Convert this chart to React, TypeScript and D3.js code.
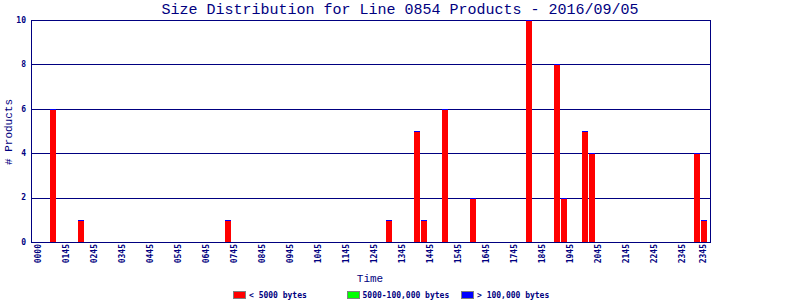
import React from "react";
import * as d3 from "d3";

// ---- Data ----
const title = "Size Distribution for Line 0854 Products - 2016/09/05";
const barTimes = ["0030", "0130", "0645", "1230", "1330", "1345", "1430", "1530", "1730", "1830", "1845", "1930", "1945", "2330", "2345"];
const smallValues = [6, 1, 1, 1, 5, 1, 6, 2, 10, 8, 2, 5, 4, 4, 1];
const mediumValues = [0, 0, 0, 0, 0, 0, 0, 0, 0, 0, 0, 0, 0, 0, 0];
const largeValues = [0, 0, 0, 0, 0, 0, 0, 0, 0, 0, 0, 0, 0, 0, 0];
const seriesNames = ["< 5000 bytes", "5000-100,000 bytes", "> 100,000 bytes"];
const seriesColors = ["#ff0000", "#00ff00", "#0000ff"];
const yTicks = [0, 2, 4, 6, 8, 10];
const tickSlots = ["0000", "0100", "0200", "0300", "0400", "0500", "0600", "0700", "0800", "0900", "1000", "1100", "1200", "1300", "1400", "1500", "1600", "1700", "1800", "1900", "2000", "2100", "2200", "2300", "2345"];
const tickLabels = ["0000", "0145", "0245", "0345", "0445", "0545", "0645", "0745", "0845", "0945", "1045", "1145", "1245", "1345", "1445", "1545", "1645", "1745", "1845", "1945", "2045", "2145", "2245", "2345", "2345"];

// 15-minute time slots of the day (categorical domain)
const slots: string[] = [];
for (let h = 0; h < 24; h++) {
  for (let m = 0; m < 60; m += 15) {
    slots.push(String(h).padStart(2, "0") + String(m).padStart(2, "0"));
  }
}

const NAVY = "#000080";
const MONO = "'DejaVu Sans Mono', 'Liberation Mono', monospace";
const MONO_LIGHT = "'Liberation Mono', 'DejaVu Sans Mono', monospace";

export default function App() {
  const W = 800, H = 300;
  const left = 31, right = 710, top = 20, bottom = 242;

  const x = d3.scaleBand<string>().domain(slots).range([35.5, 707.5]).paddingInner(1 / 7).paddingOuter(1 / 14);
  const y = d3.scaleLinear().domain([0, 10]).range([bottom, top]);
  const bw = x.bandwidth();

  const series = [smallValues, mediumValues, largeValues];
  const rows = barTimes.map((t, i) => {
    const obj: any = { time: t };
    series.forEach((s, j) => (obj["s" + j] = s[i]));
    return obj;
  });
  const stack = d3.stack<any>().keys(["s0", "s1", "s2"])(rows);

  const legendX = [233, 346.5, 461];

  return (
    <svg width={W} height={H} style={{ position: "absolute", left: 0, top: 0, background: "#fff" }} shapeRendering="crispEdges">
      <rect x={0} y={0} width={W} height={H} fill="#fff" />
      <text x={400} y={14} textAnchor="middle" fontFamily={MONO_LIGHT} fontSize={15} fill={NAVY}>{title}</text>

      {/* gridlines */}
      {yTicks.map((v) => (
        <line key={"g" + v} x1={left} x2={right + 1} y1={Math.round(y(v)) + 0.5} y2={Math.round(y(v)) + 0.5} stroke={NAVY} strokeWidth={1} />
      ))}
      {/* axes / frame */}
      <line x1={left + 0.5} x2={left + 0.5} y1={top} y2={bottom + 1} stroke={NAVY} />
      <line x1={right + 0.5} x2={right + 0.5} y1={top} y2={bottom + 1} stroke={NAVY} />

      {/* bars (stacked; empty segments drawn as 1px line at the top) */}
      {stack.map((layer, j) =>
        layer.map((d, i) => {
          const y0 = Math.round(y(d[0]));
          const y1 = Math.round(y(d[1]));
          const h = Math.max(1, y0 - y1);
          return <rect key={j + "-" + i} x={x(rows[i].time)} y={y1} width={bw} height={h} fill={seriesColors[j]} />;
        })
      )}

      {/* y tick labels */}
      {yTicks.map((v) => (
        <text key={"yt" + v} x={26} y={y(v)} dy="0.35em" textAnchor="end" fontFamily={MONO} fontSize={8} fontWeight="bold" fill={NAVY}>{v}</text>
      ))}

      {/* x tick labels */}
      {tickSlots.map((s, i) => {
        const cx = (x(s) as number) + bw / 2 - 0.5;
        return (
          <text key={"xt" + i} transform={`translate(${cx},244) rotate(-90)`} dy="0.35em" textAnchor="end" fontFamily={MONO} fontSize={8} fontWeight="bold" fill={NAVY}>{tickLabels[i]}</text>
        );
      })}

      {/* axis titles */}
      <text x={370} y={282} textAnchor="middle" fontFamily={MONO_LIGHT} fontSize={11} fill={NAVY}>Time</text>
      <text transform="translate(8,132) rotate(-90)" dy="0.35em" textAnchor="middle" fontFamily={MONO_LIGHT} fontSize={11} fill={NAVY}># Products</text>

      {/* legend */}
      {seriesNames.map((n, i) => (
        <g key={"lg" + i}>
          <rect x={legendX[i] + 0.5} y={291.5} width={12} height={7} fill={seriesColors[i]} stroke="#808080" />
          <text x={legendX[i] + 16} y={295} dy="0.35em" fontFamily={MONO} fontSize={8} fontWeight="bold" fill={NAVY}>{n}</text>
        </g>
      ))}
    </svg>
  );
}
